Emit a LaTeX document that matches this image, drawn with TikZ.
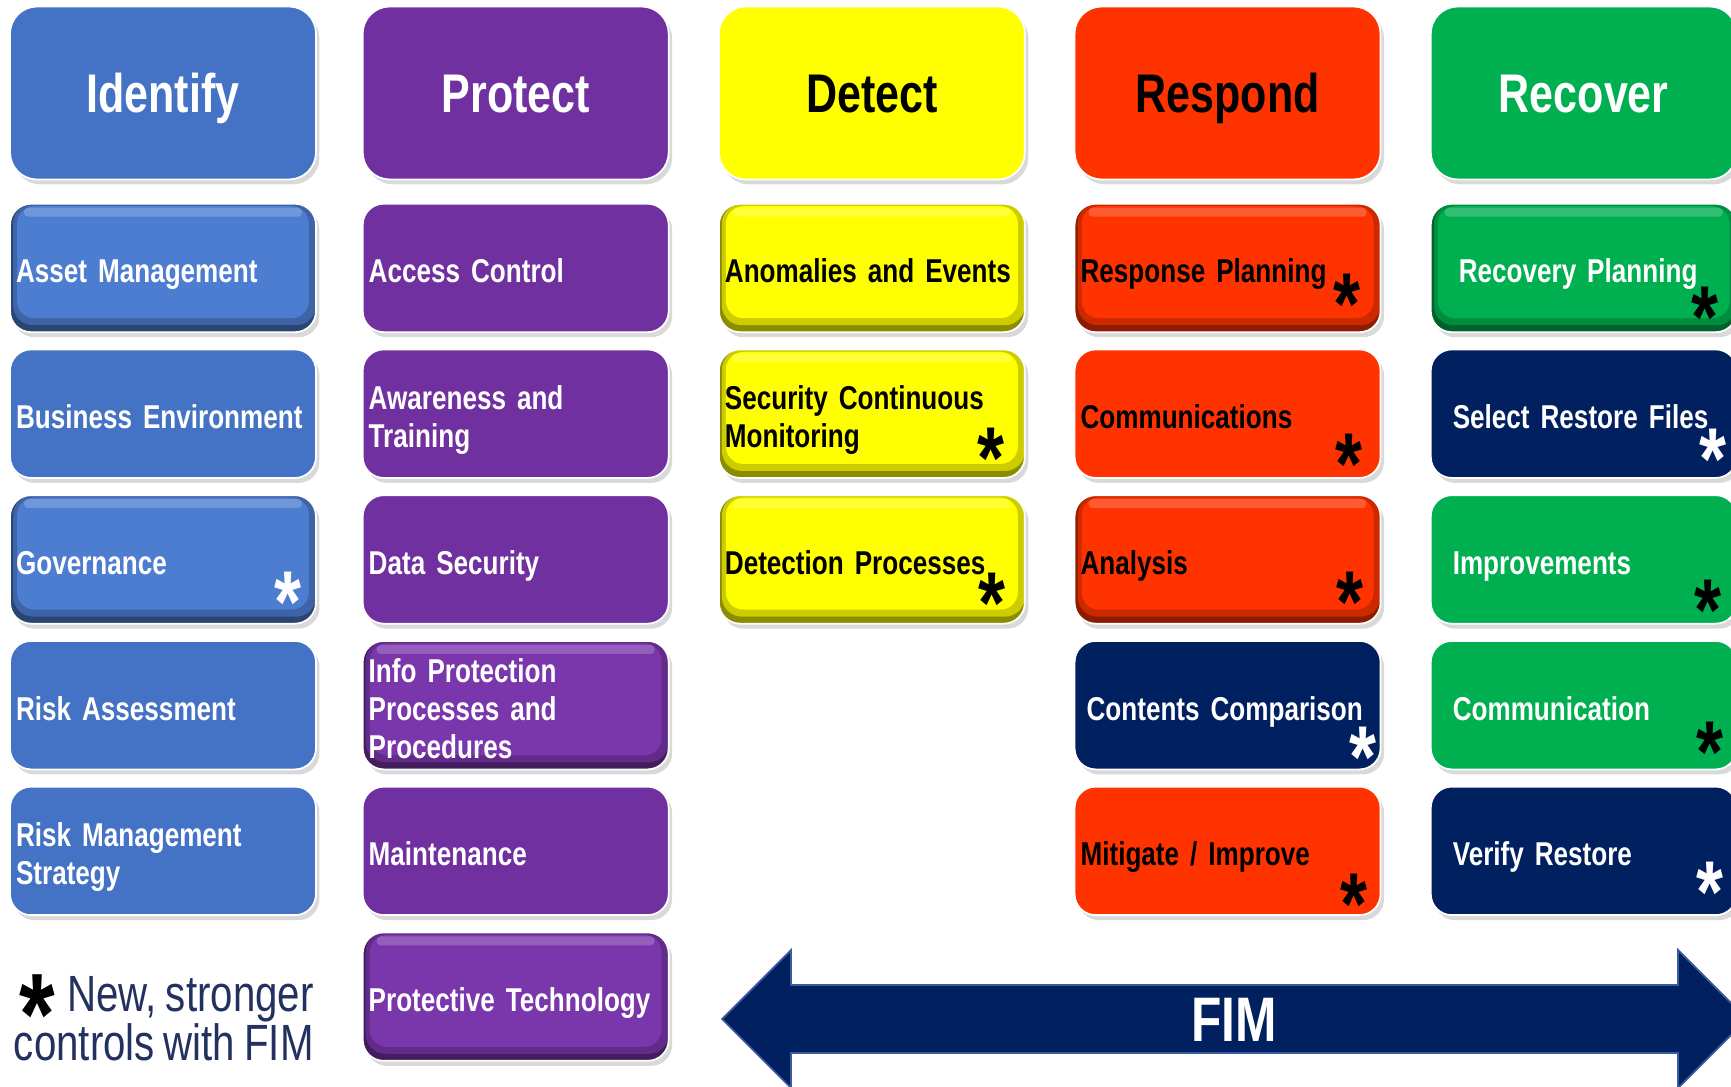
\documentclass[tikz,border=0pt]{standalone}
\usepackage{fontspec}
\setmainfont{Liberation Sans}[FakeStretch=0.79, WordSpace=0.8]
\usetikzlibrary{positioning,shadows}
\definecolor{idblue}{HTML}{4472C4}
\definecolor{idbevel}{HTML}{4D7DD0}
\definecolor{prpurple}{HTML}{7030A0}
\definecolor{prbevel}{HTML}{7A36AB}
\definecolor{dtyellow}{HTML}{FFFF00}
\definecolor{rsred}{HTML}{FF3300}
\definecolor{rcgreen}{HTML}{00B050}
\definecolor{navy}{HTML}{002060}
\definecolor{fimedge}{HTML}{3B5B9E}
\definecolor{legendblue}{HTML}{233160}

\begin{document}
\begin{tikzpicture}[
  x=0.02cm, y=-0.02cm,
  node distance=0.31cm,
  panel/.style={rectangle, draw=white, line width=1pt, drop shadow={opacity=0.3, shadow xshift=0.07cm, shadow yshift=-0.1cm}},
  head/.style={panel, rounded corners=0.54cm, minimum width=6.12cm, minimum height=3.46cm, text height=22pt, text depth=0pt, text=white, font=\fontsize{31}{31}\selectfont\bfseries},
  item/.style={panel, rounded corners=0.42cm, minimum height=2.57cm, text width=5.88cm, inner xsep=0.12cm, align=left, text height=17pt, text depth=0pt, text=white, font=\fontsize{18.8}{21.6}\selectfont\bfseries},
  twoline/.style={text depth=21.6pt},
  threeline/.style={text depth=43.2pt},
  rcitem/.style={item, inner xsep=0.44cm, text width=5.24cm},
  bevel/.style={fill=#1, path picture={
    \fill[#1!55!black] (path picture bounding box.south west) rectangle (path picture bounding box.north east);
    \fill[#1!80!black, rounded corners=0.4cm] ([shift={(0.06cm,0.14cm)}]path picture bounding box.south west) rectangle (path picture bounding box.north east);
    \fill[#1, rounded corners=0.35cm] ([shift={(0.14cm,0.28cm)}]path picture bounding box.south west) rectangle ([shift={(-0.14cm,-0.05cm)}]path picture bounding box.north east);
    \fill[white, opacity=0.2, rounded corners=0.08cm] ([shift={(0.28cm,-0.08cm)}]path picture bounding box.north west) rectangle ([shift={(-0.28cm,-0.26cm)}]path picture bounding box.north east);
  }},
  fimstar/.style={inner sep=0pt, anchor=base, text=black, font=\fontsize{50}{50}\selectfont\bfseries},
  fimarrow/.style={fill=navy, draw=fimedge, line width=1pt},
  legendtext/.style={anchor=base east, inner sep=0pt, text=legendblue, font=\fontsize{29}{29}\selectfont}
]
\useasboundingbox (0,0) rectangle (1731,1087);

\node[head, fill=idblue] (identify) at (163,93) {Identify};
\node[head, fill=prpurple, right=0.9cm of identify] (protect) {Protect};
\node[head, fill=dtyellow, text=black, right=0.97cm of protect] (detect) {Detect};
\node[head, fill=rsred, text=black, right=0.96cm of detect] (respond) {Respond};
\node[head, fill=rcgreen, right=0.97cm of respond] (recover) {Recover};

\node[item, bevel=idbevel, below=0.45cm of identify] (asset) {Asset Management};
\node[item, fill=idblue, below=of asset] (business) {Business Environment};
\node[item, bevel=idbevel, below=of business] (governance) {Governance};
\node[item, fill=idblue, below=of governance] (riskassess) {Risk Assessment};
\node[item, twoline, fill=idblue, below=of riskassess] (riskmgmt) {Risk Management\\Strategy};

\node[item, fill=prpurple, below=0.45cm of protect] (access) {Access Control};
\node[item, twoline, fill=prpurple, below=of access] (awareness) {Awareness and\\Training};
\node[item, fill=prpurple, below=of awareness] (datasec) {Data Security};
\node[item, threeline, bevel=prbevel, below=of datasec] (infoprot) {Info Protection\\Processes and\\Procedures};
\node[item, fill=prpurple, below=of infoprot] (maintenance) {Maintenance};
\node[item, bevel=prbevel, below=of maintenance] (protech) {Protective Technology};

\node[item, bevel=dtyellow, text=black, below=0.45cm of detect] (anomalies) {Anomalies and Events};
\node[item, twoline, bevel=dtyellow, text=black, below=of anomalies] (monitoring) {Security Continuous\\Monitoring};
\node[item, bevel=dtyellow, text=black, below=of monitoring] (detection) {Detection Processes};

\node[item, bevel=rsred, text=black, below=0.45cm of respond] (response) {Response Planning};
\node[item, fill=rsred, text=black, below=of response] (communications) {Communications};
\node[item, bevel=rsred, text=black, below=of communications] (analysis) {Analysis};
\node[item, fill=navy, inner xsep=0.24cm, text width=5.64cm, below=of analysis] (contents) {Contents Comparison};
\node[item, fill=rsred, text=black, below=of contents] (mitigate) {Mitigate / Improve};

\node[rcitem, bevel=rcgreen, inner xsep=0.56cm, text width=5cm, below=0.45cm of recover] (recplanning) {Recovery Planning};
\node[rcitem, fill=navy, below=of recplanning] (restore) {Select Restore Files};
\node[rcitem, fill=rcgreen, below=of restore] (improvements) {Improvements};
\node[rcitem, fill=rcgreen, below=of improvements] (communication) {Communication};
\node[rcitem, fill=navy, below=of communication] (verify) {Verify Restore};

\node[fimstar, text=white] (s-governance) at ([shift={(-29,8)}]governance.south east) {*};
\node[fimstar] (s-monitoring) at ([shift={(-35,10)}]monitoring.south east) {*};
\node[fimstar] (s-detection) at ([shift={(-34,9)}]detection.south east) {*};
\node[fimstar] (s-response) at ([shift={(-34,1)}]response.south east) {*};
\node[fimstar] (s-communications) at ([shift={(-32,16)}]communications.south east) {*};
\node[fimstar] (s-analysis) at ([shift={(-31,8)}]analysis.south east) {*};
\node[fimstar, text=white] (s-contents) at ([shift={(-18,17)}]contents.south east) {*};
\node[fimstar] (s-mitigate) at ([shift={(-27,18)}]mitigate.south east) {*};
\node[fimstar] (s-recplanning) at ([shift={(-33,14)}]recplanning.south east) {*};
\node[fimstar, text=white] (s-restore) at ([shift={(-25,11)}]restore.south east) {*};
\node[fimstar] (s-improvements) at ([shift={(-30,16)}]improvements.south east) {*};
\node[fimstar] (s-communication) at ([shift={(-28,12)}]communication.south east) {*};
\node[fimstar, text=white] (s-verify) at ([shift={(-28,6)}]verify.south east) {*};

\node[fimstar, text depth=-24pt, font=\fontsize{66}{66}\selectfont\bfseries] (legend-star) at (37,1054) {*};
\node[legendtext] (legend-top) at (314,1011) {New, stronger};
\node[legendtext] (legend-bottom) at (314,1060) {controls with FIM};

\draw[fimarrow] (722,1019) -- (791,950) -- (791,985) -- (1678,985) -- (1678,950) -- (1747,1019)
  -- (1678,1088) -- (1678,1053) -- (791,1053) -- (791,1088) -- cycle;
\node[text=white, font=\fontsize{35.8}{35.8}\selectfont\bfseries] (fim) at (1234,1020) {FIM};
\end{tikzpicture}
\end{document}
